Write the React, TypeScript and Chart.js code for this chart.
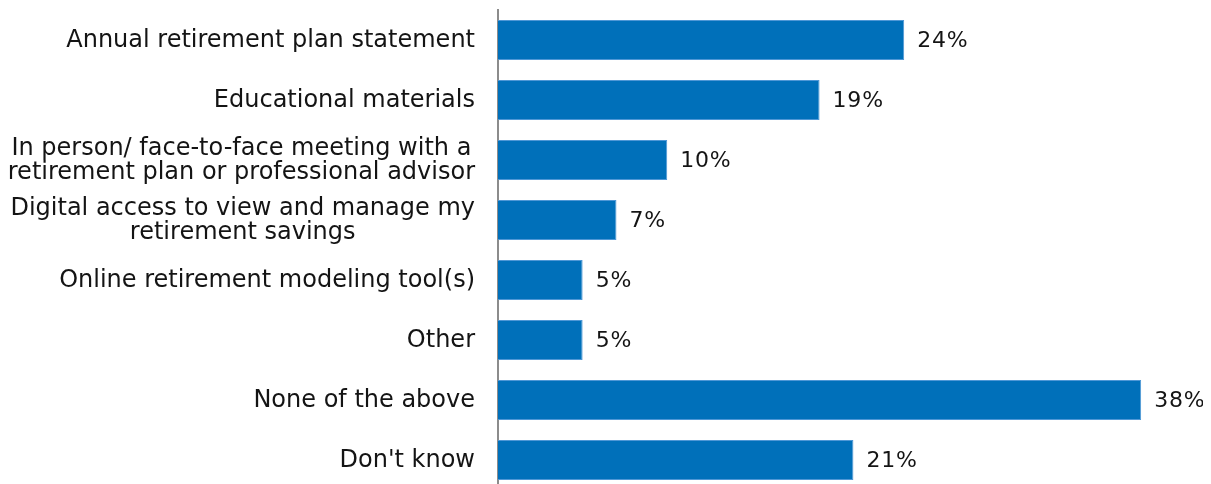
import React, { useEffect, useRef } from "react";
import { Chart, registerables } from "chart.js";

Chart.register(...registerables);

const categories: (string | string[])[] = [
  "Annual retirement plan statement",
  "Educational materials",
  ["In person/ face-to-face meeting with a", "retirement plan or professional advisor"],
  ["Digital access to view and manage my", "retirement savings"],
  "Online retirement modeling tool(s)",
  "Other",
  "None of the above",
  "Don't know",
];
const values = [24, 19, 10, 7, 5, 5, 38, 21];

const customText = {
  id: "customText",
  afterDatasetsDraw(chart: any) {
    const ctx = chart.ctx;
    const meta = chart.getDatasetMeta(0);
    const yScale = chart.scales.y;
    ctx.save();
    // value labels
    ctx.font = '22px "DejaVu Sans"';
    (ctx as any).letterSpacing = "0.8px";
    ctx.fillStyle = "#141414";
    ctx.textAlign = "left";
    ctx.textBaseline = "middle";
    meta.data.forEach((bar: any, i: number) => {
      ctx.fillText(values[i] + "%", bar.x + 13, bar.y + 1);
    });
    // category labels
    (ctx as any).letterSpacing = "0px";
    ctx.font = '24px "DejaVu Sans"';
    ctx.textAlign = "center";
    const right = yScale.right - 23;
    const lineH = 24;
    categories.forEach((cat, i) => {
      const lines = Array.isArray(cat) ? cat : [cat];
      const y = yScale.getPixelForTick(i);
      const widths = lines.map((l) => ctx.measureText(l).width);
      const w = Math.max(...widths);
      const cx = right - w / 2;
      const y0 = y + 1 - ((lines.length - 1) * lineH) / 2;
      lines.forEach((l, k) => ctx.fillText(l, cx, y0 + k * lineH));
    });
    ctx.restore();
  },
};

export default function App() {
  const ref = useRef<HTMLCanvasElement>(null);
  useEffect(() => {
    if (!ref.current) return;
    const chart = new Chart(ref.current, {
      type: "bar",
      data: {
        labels: categories,
        datasets: [
          {
            data: values,
            backgroundColor: "#0070BA",
            borderColor: "#4E97D6",
            borderWidth: 1,
            borderSkipped: "start",
            categoryPercentage: 1,
            barPercentage: 0.667,
          },
        ],
      },
      options: {
        indexAxis: "y",
        animation: false,
        responsive: false,
        layout: { padding: { top: 2, right: 28, bottom: 0, left: 0 } },
        plugins: { legend: { display: false }, tooltip: { enabled: false } },
        scales: {
          x: { display: false, min: 0, max: 40 },
          y: {
            grid: { display: false, drawTicks: false },
            border: { display: true, color: "#8c8c8c", width: 2 },
            ticks: { display: false },
            afterFit(scale: any) {
              scale.width = 490;
            },
          },
        },
      },
      plugins: [customText],
    });
    return () => chart.destroy();
  }, []);
  return <canvas ref={ref} width={1195} height={482} style={{ display: "block" }} />;
}
